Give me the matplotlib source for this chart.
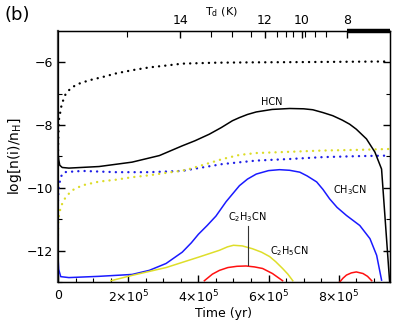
import numpy as np
import matplotlib
matplotlib.use("Agg")
import matplotlib.pyplot as plt

plt.rcParams['font.family'] = ['DejaVu Sans']
plt.rcParams['mathtext.fontset'] = 'dejavusans'

# ---- data (time in yr, log abundance) ----
black_dot_t = [0, 1e3, 3e3, 1.06e4, 2.2e4, 3.6e4, 5.4e4, 8.9e4, 1.26e5, 1.66e5, 2.11e5,
               2.6e5, 3.09e5, 3.54e5, 4.5e5, 5.46e5, 7e5, 9.46e5]
black_dot_v = [-9.0, -8.3, -7.8, -7.33, -7.0, -6.83, -6.7, -6.57, -6.47, -6.35, -6.25,
               -6.16, -6.1, -6.04, -6.01, -6.0, -5.99, -5.97]

hcn_t = [0, 2e3, 5e3, 1.2e4, 3.1e4, 1.17e5, 2.11e5, 2.89e5, 3.54e5, 3.9e5, 4.31e5, 4.65e5,
         4.97e5, 5.17e5, 5.4e5, 5.65e5, 6.1e5, 6.6e5, 7.0e5, 7.26e5, 7.55e5, 7.83e5, 8.1e5,
         8.31e5, 8.5e5, 8.79e5, 9.03e5, 9.22e5, 9.45e5]
hcn_v = [-8.85, -9.1, -9.28, -9.35, -9.37, -9.32, -9.18, -8.97, -8.66, -8.5, -8.29, -8.08,
         -7.86, -7.76, -7.66, -7.58, -7.5, -7.47, -7.48, -7.51, -7.6, -7.7, -7.84,
         -7.97, -8.13, -8.44, -8.86, -9.4, -13.0]

blue_dot_t = [0, 2e3, 7.7e3, 1.7e4, 6.9e4, 1.66e5, 2.6e5, 3.54e5, 3.74e5, 4.69e5, 5.65e5,
              6.6e5, 7.54e5, 8.5e5, 9.46e5]
blue_dot_v = [-10.4, -10.0, -9.65, -9.5, -9.46, -9.5, -9.5, -9.46, -9.42, -9.24, -9.13,
              -9.08, -9.02, -8.99, -8.97]

yel_dot_t = [0, 1e3, 7.7e3, 2.2e4, 4e4, 6.9e4, 1.17e5, 1.65e5, 2.11e5, 2.6e5, 3.09e5, 3.54e5,
             3.74e5, 4.22e5, 4.69e5, 5.17e5, 5.65e5, 6.6e5, 7.54e5, 8.5e5, 9.46e5]
yel_dot_v = [-11.5, -11.0, -10.6, -10.29, -10.08, -9.92, -9.8, -9.74, -9.66, -9.6, -9.52, -9.45,
             -9.4, -9.24, -9.08, -8.95, -8.89, -8.85, -8.81, -8.79, -8.76]

ch3cn_t = [0, 2e3, 7.7e3, 3.1e4, 1.17e5, 2.11e5, 2.6e5, 3.08e5, 3.54e5, 3.8e5, 4.0e5, 4.25e5,
           4.5e5, 4.79e5, 5.17e5, 5.4e5, 5.65e5, 6.0e5, 6.31e5, 6.6e5, 6.89e5, 7.1e5, 7.37e5,
           7.55e5, 7.74e5, 7.95e5, 8.22e5, 8.6e5, 8.89e5, 9.08e5, 9.22e5]
ch3cn_v = [-12.2, -12.6, -12.83, -12.86, -12.82, -12.76, -12.63, -12.41, -12.05, -11.75, -11.48,
           -11.2, -10.9, -10.44, -9.93, -9.72, -9.56, -9.45, -9.42, -9.44, -9.5, -9.62, -9.81,
           -10.05, -10.35, -10.62, -10.88, -11.2, -11.62, -12.15, -12.94]

c2h5cn_t = [1.51e5, 2.11e5, 3.08e5, 4.03e5, 4.6e5, 4.83e5, 5.0e5, 5.25e5, 5.54e5, 5.8e5, 6.03e5,
            6.2e5, 6.4e5, 6.55e5, 6.69e5]
c2h5cn_v = [-12.96, -12.79, -12.54, -12.2, -11.99, -11.88, -11.83, -11.85, -11.94, -12.05, -12.19,
            -12.35, -12.57, -12.75, -12.96]

c2h3cn_t = [4.17e5, 4.4e5, 4.6e5, 4.84e5, 5.1e5, 5.36e5, 5.6e5, 5.83e5, 6.11e5, 6.4e5]
c2h3cn_v = [-12.96, -12.75, -12.63, -12.54, -12.5, -12.49, -12.52, -12.57, -12.73, -12.96]
c2h3cn2_t = [8.03e5, 8.12e5, 8.22e5, 8.36e5, 8.5e5, 8.69e5, 8.82e5, 8.94e5]
c2h3cn2_v = [-13.0, -12.88, -12.78, -12.71, -12.68, -12.73, -12.82, -12.96]

td_tick_times = [3.49e5, 5.89e5, 6.94e5, 8.23e5]
td_tick_labels = ['14', '12', '10', '8']
td_minor_times = [1.97e5, 4.37e5, 4.97e5, 5.49e5, 6.23e5, 6.49e5, 6.71e5, 7.03e5, 7.31e5, 7.63e5]

xmax = 9.46e5

# ---- figure ----
fig = plt.figure(figsize=(3.99, 3.23), dpi=100)
ax = fig.add_axes([0.1454, 0.127, 0.8320, 0.777])

dot = dict(linestyle=(0, (0.05, 2.6)), lw=1.7, dash_capstyle='round')
ax.plot(black_dot_t, black_dot_v, color='black', **dot)
ax.plot(blue_dot_t, blue_dot_v, color='#1f1fe6', **dot)
ax.plot(yel_dot_t, yel_dot_v, color='#dcdc28', **dot)

ax.plot(hcn_t, hcn_v, color='black', lw=1.1)
ax.plot(ch3cn_t, ch3cn_v, color='#1a1aff', lw=1.1)
ax.plot(c2h5cn_t, c2h5cn_v, color='#dede2a', lw=1.1)
ax.plot(c2h3cn_t, c2h3cn_v, color='#ff1010', lw=1.1)
ax.plot(c2h3cn2_t, c2h3cn2_v, color='#ff1010', lw=1.1)

ax.set_xlim(0, xmax)
ax.set_ylim(-13, -5)

ax.set_xticks([0, 2e5, 4e5, 6e5, 8e5])
ax.set_xticklabels(['0', r'2$\times$10$^5$', r'4$\times$10$^5$', r'6$\times$10$^5$', r'8$\times$10$^5$'])
ax.set_xticks(np.arange(0, 9.5e5, 5e4), minor=True)
ax.set_yticks([-12, -10, -8, -6])
ax.set_yticklabels(['\u221212', '\u221210', '\u22128', '\u22126'])
ax.set_yticks(np.arange(-13, -5, 1), minor=True)

ax.tick_params(axis='both', which='major', direction='in', length=5, width=1.0, labelsize=9)
ax.tick_params(axis='both', which='minor', direction='in', length=3, width=0.8)
ax.tick_params(axis='y', which='both', right=True, left=True)
ax.tick_params(axis='x', which='both', top=False, bottom=True, pad=5)

for s in ax.spines.values():
    s.set_linewidth(1.0)
ax.spines['left'].set_linewidth(1.6)
ax.spines['left'].set_color('#444444')

ax.set_xlabel('Time (yr)', fontsize=9, labelpad=1)
ax.set_ylabel(r'log$\left[\mathregular{n(i)/n_H}\right]$', fontsize=10, labelpad=2)

# top temperature axis
ax2 = ax.twiny()
ax2.set_xlim(0, xmax)
ax2.set_xticks(td_tick_times)
ax2.set_xticklabels(td_tick_labels)
ax2.set_xticks(td_minor_times, minor=True)
ax2.tick_params(axis='x', which='major', direction='in', length=5, width=1.0, labelsize=9, pad=3)
ax2.tick_params(axis='x', which='minor', direction='in', length=4, width=0.8)
ax2.plot([td_tick_times[-1], xmax], [1, 1], color='black', lw=3.2, solid_capstyle='butt',
         transform=ax2.get_xaxis_transform(), clip_on=False)
fig.text(0.513, 0.962, r'T$_\mathregular{d}$ (K)', fontsize=8, ha='left', va='center')

# curve labels
ax.text(6.08e5, -7.27, 'HCN', fontsize=7, ha='center', va='center')
ax.text(7.83e5, -10.06, r'CH$_\mathregular{3}$CN', fontsize=7, ha='left', va='center')
ax.text(5.39e5, -10.92, r'C$_\mathregular{2}$H$_\mathregular{3}$CN', fontsize=7, ha='center', va='center')
ax.text(6.03e5, -12.0, r'C$_\mathregular{2}$H$_\mathregular{5}$CN', fontsize=7, ha='left', va='center')
ax.plot([5.41e5, 5.41e5], [-11.2, -12.47], color='#333333', lw=0.8)

fig.text(0.012, 0.955, '(b)', fontsize=13, ha='left', va='center')

fig.savefig('out.png', dpi=100)
